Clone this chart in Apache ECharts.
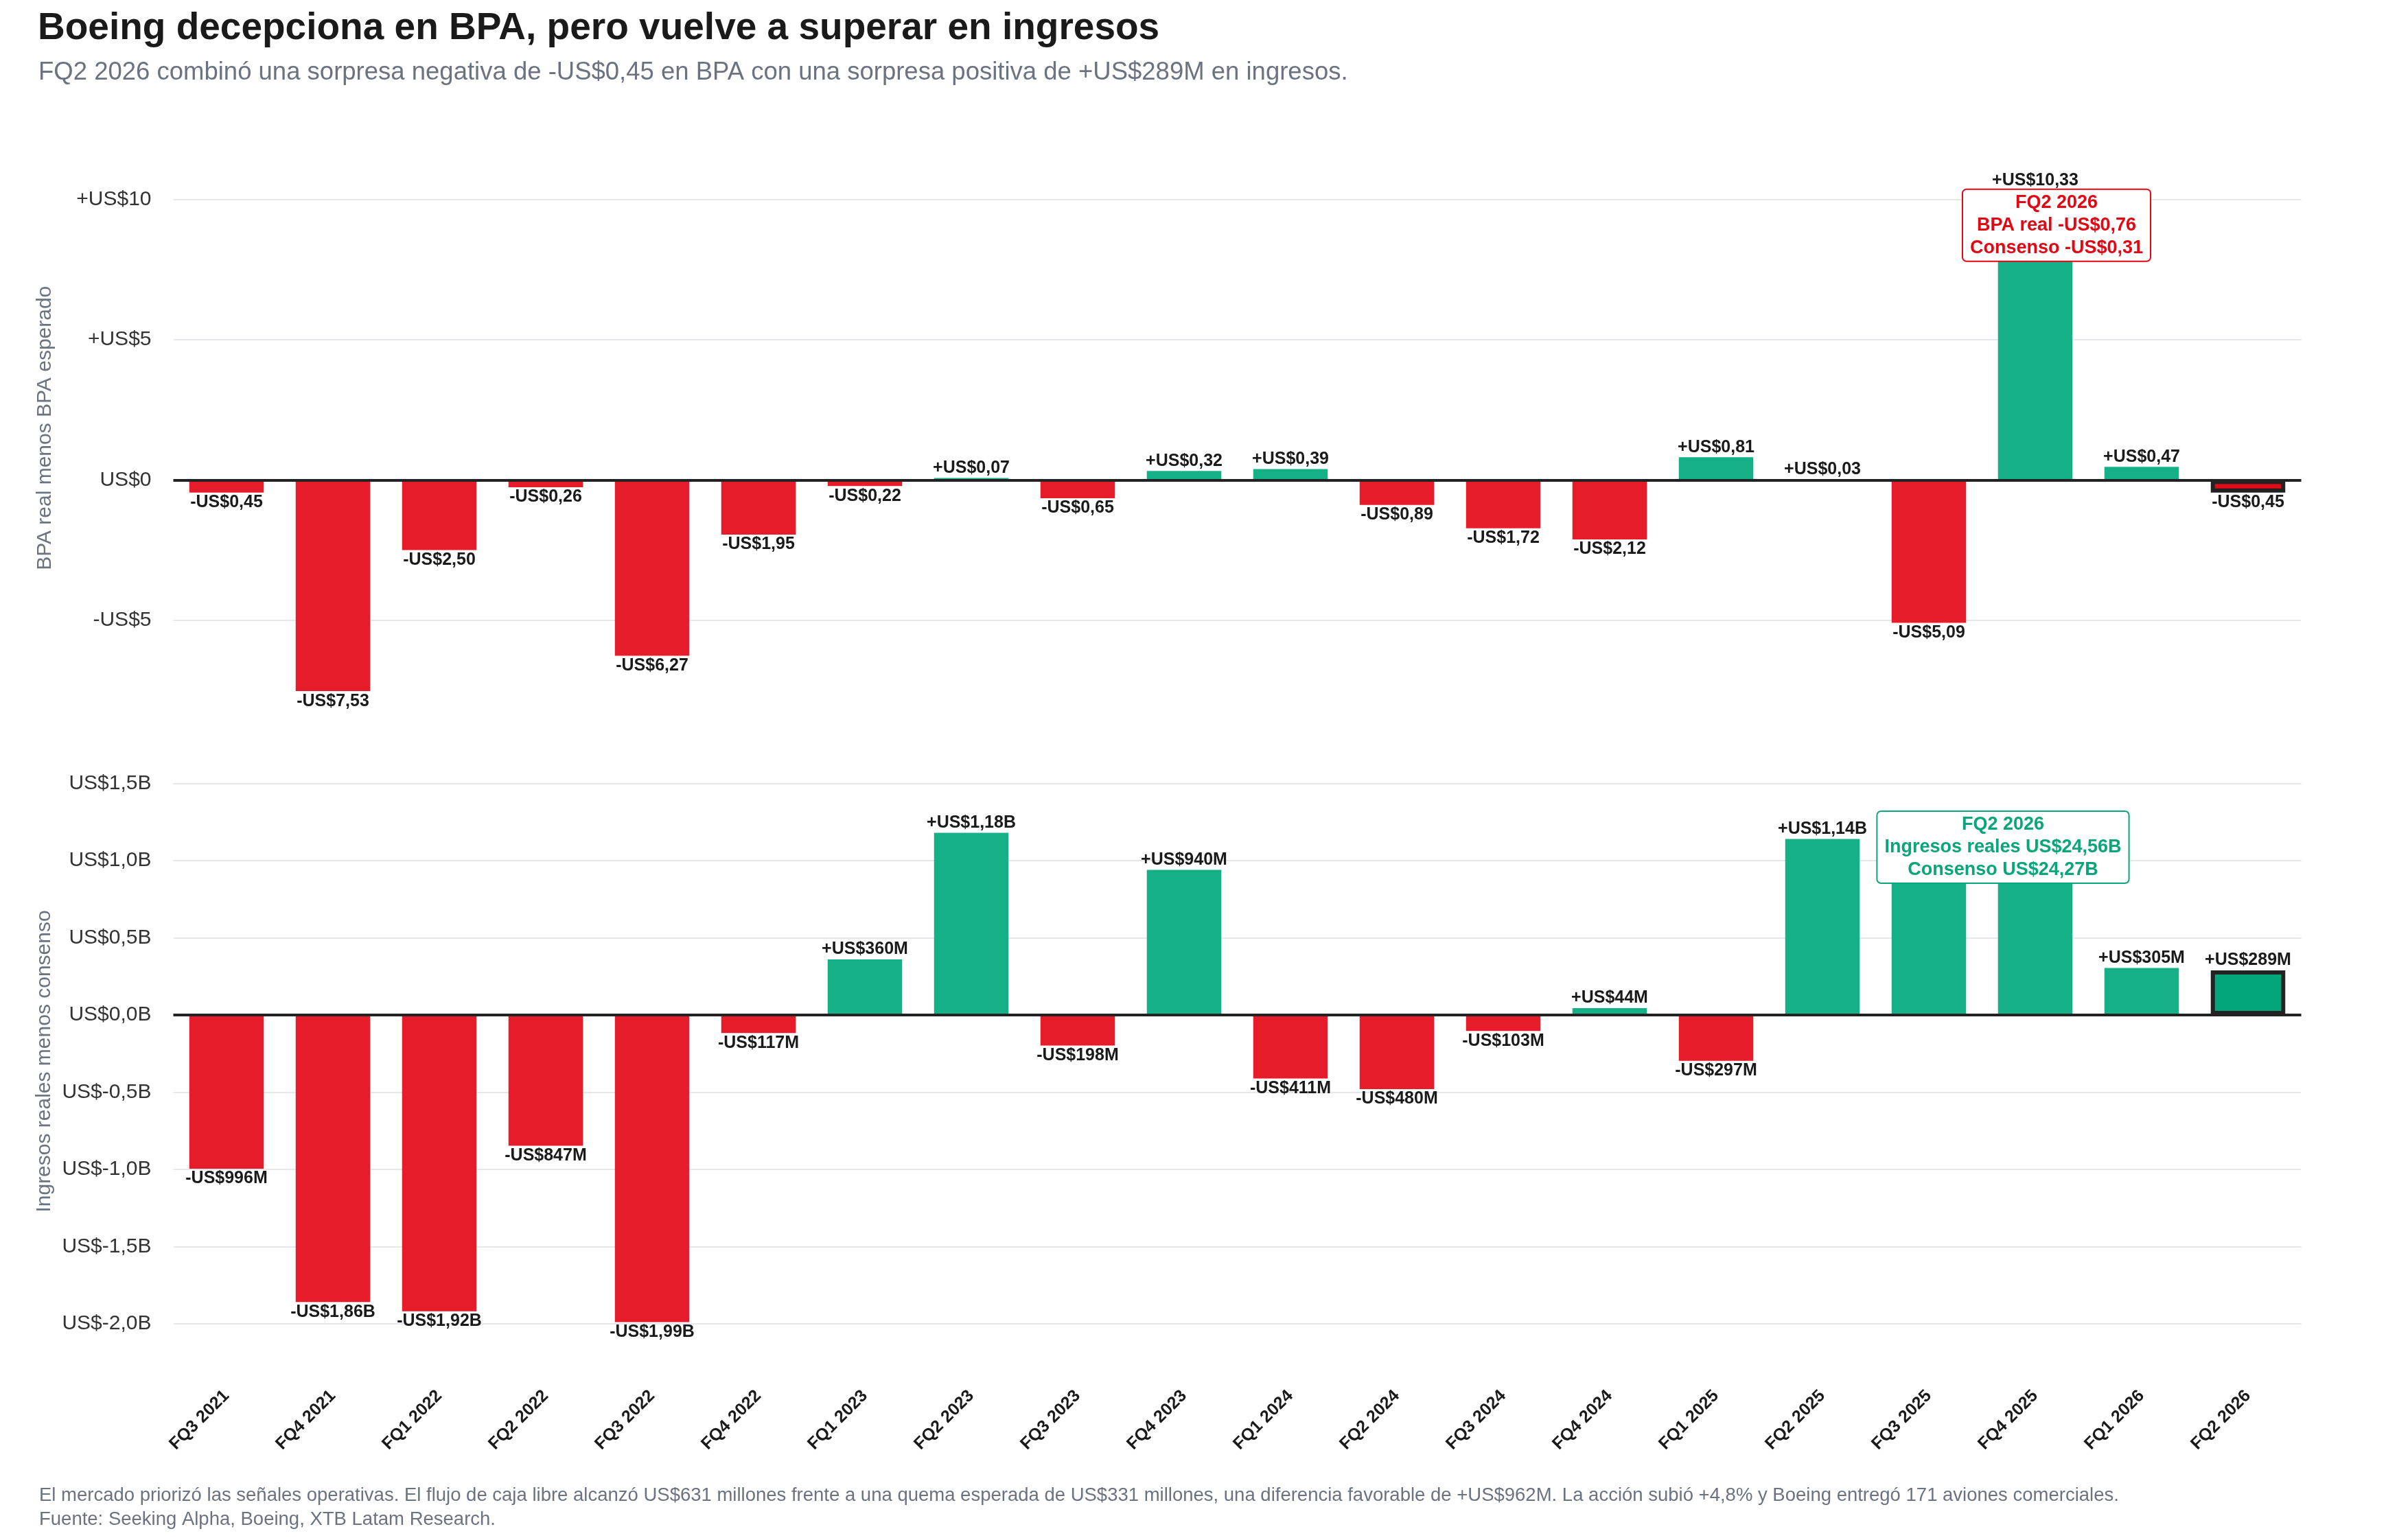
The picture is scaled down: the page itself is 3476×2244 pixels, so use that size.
<!DOCTYPE html>
<html>
<head>
<meta charset="utf-8">
<script src="https://cdn.jsdelivr.net/npm/echarts@6/dist/echarts.min.js"></script>
<style>
html,body{margin:0;padding:0;background:#ffffff;}
#chart{width:3476px;height:2244px;}
</style>
</head>
<body>
<div id="chart"></div>
<script>
// ---- Data ----
const categories = ['FQ3 2021','FQ4 2021','FQ1 2022','FQ2 2022','FQ3 2022','FQ4 2022','FQ1 2023','FQ2 2023','FQ3 2023','FQ4 2023','FQ1 2024','FQ2 2024','FQ3 2024','FQ4 2024','FQ1 2025','FQ2 2025','FQ3 2025','FQ4 2025','FQ1 2026','FQ2 2026'];
// BPA real menos BPA esperado (US$)
const epsSurprise = [-0.45,-7.53,-2.50,-0.26,-6.27,-1.95,-0.22,0.07,-0.65,0.32,0.39,-0.89,-1.72,-2.12,0.81,0.03,-5.09,10.33,0.47,-0.45];
// Ingresos reales menos consenso (US$ millones)
const revenueSurpriseM = [-996,-1860,-1920,-847,-1990,-117,360,1180,-198,940,-411,-480,-103,44,-297,1140,1070,1000,305,289];
const highlightCategory = 'FQ2 2026';
const epsNote = ['FQ2 2026','BPA real -US$0,76','Consenso -US$0,31'];
const revNote = ['FQ2 2026','Ingresos reales US$24,56B','Consenso US$24,27B'];
const titleText = 'Boeing decepciona en BPA, pero vuelve a superar en ingresos';
const subtitleText = 'FQ2 2026 combinó una sorpresa negativa de -US$0,45 en BPA con una sorpresa positiva de +US$289M en ingresos.';
const footerLines = [
  'El mercado priorizó las señales operativas. El flujo de caja libre alcanzó US$631 millones frente a una quema esperada de US$331 millones, una diferencia favorable de +US$962M. La acción subió +4,8% y Boeing entregó 171 aviones comerciales.',
  'Fuente: Seeking Alpha, Boeing, XTB Latam Research.'
];

// ---- Styling ----
const FONT = '"Liberation Sans", Arial, Helvetica, sans-serif';
const GREEN = '#16b086';
const RED = '#e61c2a';
const HL_GREEN = '#02a678';
const HL_RED = '#e10a17';
const DARK = '#222222';
const GRAY = '#6b7280';

function fmtEps(v){
  const s = v > 0 ? '+' : (v < 0 ? '-' : '');
  return s + 'US$' + Math.abs(v).toFixed(2).replace('.', ',');
}
function fmtRev(m){
  const s = m > 0 ? '+' : (m < 0 ? '-' : '');
  const a = Math.abs(m);
  return s + 'US$' + (a >= 1000 ? (a/1000).toFixed(2).replace('.', ',') + 'B' : a + 'M');
}
function epsAxisLabel(v){
  if (v > 0) return '+US$' + v;
  if (v < 0) return '-US$' + Math.abs(v);
  return 'US$0';
}
function revAxisLabel(v){
  return 'US$' + (v/1000).toFixed(1).replace('.', ',') + 'B';
}

function items(values, hlColorPos, hlColorNeg){
  return values.map((v, i) => {
    const hl = categories[i] === highlightCategory;
    return {
      value: v,
      itemStyle: hl
        ? {color: v >= 0 ? hlColorPos : hlColorNeg, borderColor: DARK, borderWidth: 6}
        : {color: v >= 0 ? GREEN : RED, borderWidth: 0},
      label: {position: v < 0 ? 'bottom' : 'top'}
    };
  });
}

const valueLabel = (fmt) => ({
  show: true,
  distance: 2,
  fontFamily: FONT,
  fontSize: 25,
  fontWeight: 'bold',
  color: '#1a1a1a',
  formatter: p => fmt(p.value)
});

const zeroLine = {
  silent: true,
  symbol: ['none','none'],
  label: {show: false},
  lineStyle: {color: DARK, width: 4, type: 'solid'},
  data: [{yAxis: 0}]
};

function noteLabel(lines, color, offset){
  return {
    show: true,
    position: 'inside',
    offset: offset,
    formatter: lines.join('\n'),
    fontFamily: FONT,
    fontSize: 27,
    fontWeight: 'bold',
    lineHeight: 33,
    color: color,
    align: 'center',
    backgroundColor: '#ffffff',
    borderColor: color,
    borderWidth: 2,
    borderRadius: 5,
    padding: [2, 10, 2, 10]
  };
}

const chart = echarts.init(document.getElementById('chart'), null, {renderer: 'canvas'});

const axisLabelStyle = {fontFamily: FONT, fontSize: 30, color: '#333333'};

chart.setOption({
  backgroundColor: '#ffffff',
  animation: false,
  title: [
    {text: titleText, left: 50, top: 9,
     textStyle: {fontFamily: FONT, fontSize: 55, fontWeight: 'bold', color: '#1a1a1a'}},
    {text: subtitleText, left: 51, top: 82,
     textStyle: {fontFamily: FONT, fontSize: 36.5, fontWeight: 'normal', color: GRAY}},
    {text: footerLines.join('\n'), left: 52, top: 2157,
     textStyle: {fontFamily: FONT, fontSize: 27.5, fontWeight: 'normal', color: GRAY, lineHeight: 35}}
  ],
  grid: [
    {left: 252.5, width: 3100, top: 180.3, height: 886.9, containLabel: false},
    {left: 252.5, width: 3100, top: 1098.9, height: 895.1, containLabel: false}
  ],
  xAxis: [
    {type: 'category', gridIndex: 0, data: categories, show: false},
    {type: 'category', gridIndex: 1, data: categories,
     axisLine: {show: false}, axisTick: {show: false},
     axisLabel: {interval: 0, rotate: 45, margin: 36, fontFamily: FONT, fontSize: 25, fontWeight: 'bold', color: '#1a1a1a'}}
  ],
  yAxis: [
    {type: 'value', gridIndex: 0, min: -9, max: 12.7, splitNumber: 5,
     name: 'BPA real menos BPA esperado', nameLocation: 'middle', nameGap: 172,
     nameTextStyle: {fontFamily: FONT, fontSize: 30, color: GRAY},
     axisLine: {show: false}, axisTick: {show: false},
     axisLabel: Object.assign({margin: 32, showMinLabel: false, showMaxLabel: false,
       formatter: v => (Math.abs(v % 5) < 1e-9 ? epsAxisLabel(v) : '')}, axisLabelStyle),
     splitLine: {show: true, showMinLine: false, showMaxLine: false, lineStyle: {color: '#e5e7eb', width: 2}}},
    {type: 'value', gridIndex: 1, min: -2290, max: 1690, splitNumber: 8,
     name: 'Ingresos reales menos consenso', nameLocation: 'middle', nameGap: 172,
     nameTextStyle: {fontFamily: FONT, fontSize: 30, color: GRAY},
     axisLine: {show: false}, axisTick: {show: false},
     axisLabel: Object.assign({margin: 32, showMinLabel: false, showMaxLabel: false,
       formatter: v => (Math.abs(v % 500) < 1e-6 ? revAxisLabel(v) : '')}, axisLabelStyle),
     splitLine: {show: true, showMinLine: false, showMaxLine: false, lineStyle: {color: '#e5e7eb', width: 2}}}
  ],
  series: [
    {
      name: 'BPA', type: 'bar', xAxisIndex: 0, yAxisIndex: 0,
      barWidth: '70%',
      data: items(epsSurprise, HL_GREEN, HL_RED),
      label: valueLabel(fmtEps),
      markLine: zeroLine,
      markPoint: {
        symbol: 'rect', symbolSize: 1, itemStyle: {color: 'rgba(0,0,0,0)'}, z: 10,
        data: [{coord: ['FQ4 2025', 9.08], label: noteLabel(epsNote, '#e30613', [31, 0])}]
      }
    },
    {
      name: 'Ingresos', type: 'bar', xAxisIndex: 1, yAxisIndex: 1,
      barWidth: '70%',
      data: items(revenueSurpriseM, HL_GREEN, HL_RED),
      label: valueLabel(fmtRev),
      markLine: zeroLine,
      markPoint: {
        symbol: 'rect', symbolSize: 1, itemStyle: {color: 'rgba(0,0,0,0)'}, z: 10,
        data: [{coord: ['FQ3 2025', 1087], label: noteLabel(revNote, '#0aa57a', [108, 0])}]
      }
    }
  ]
});
</script>
</body>
</html>
